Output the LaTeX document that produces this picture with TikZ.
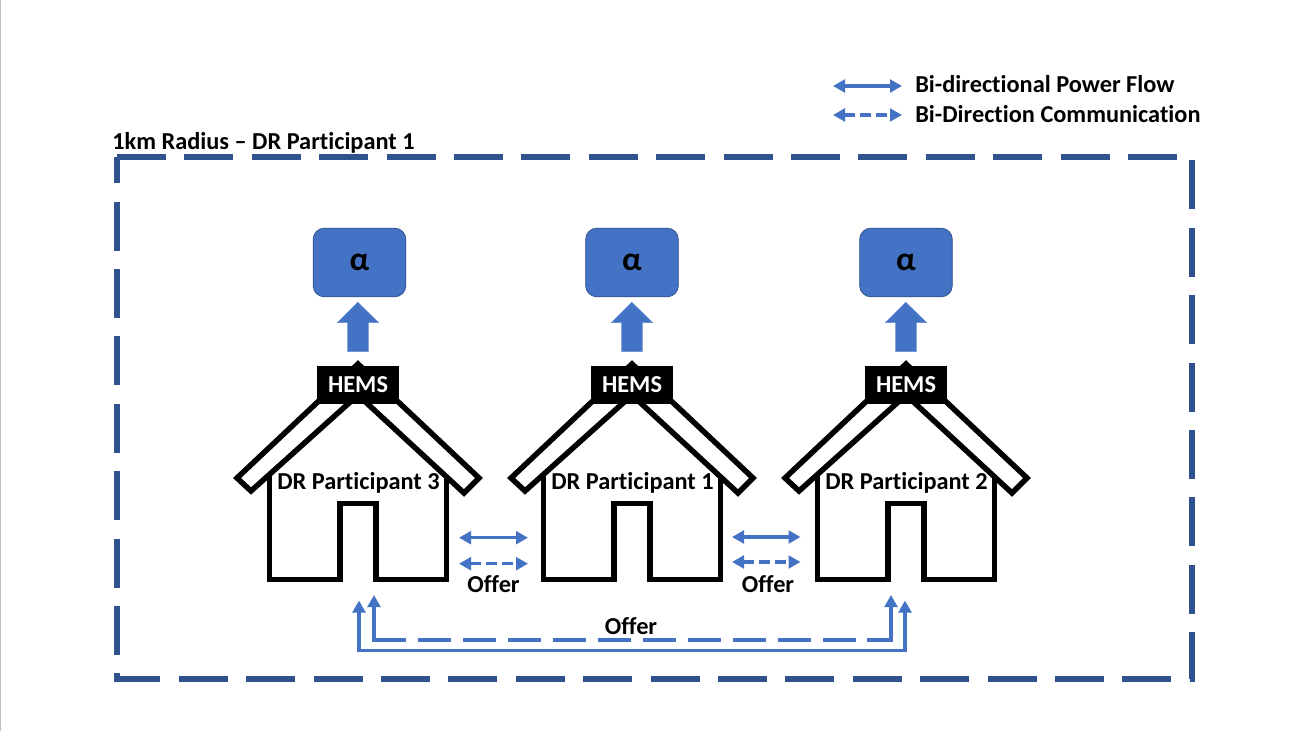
\documentclass[tikz,border=0pt]{standalone}
\usepackage{fontspec}
\setmainfont[Ligatures=NoCommon]{Carlito}
\usetikzlibrary{arrows.meta}
\definecolor{flow}{HTML}{4472C4}
\definecolor{frameblue}{HTML}{2F528F}
\tikzset{
  labeltext/.style={inner sep=0pt,anchor=base,font=\bfseries\fontsize{18.25pt}{20pt}\selectfont},
  frameline/.style={draw=frameblue,line width=4.5pt,dash pattern=on 36.75pt off 13.8pt,line join=miter},
  houseline/.style={draw=black,line width=4.1pt,line join=miter,fill=white},
  hemsbox/.style={fill=black,text=white,inner sep=0pt,minimum width=61.5pt,minimum height=28.5pt,text height=10.8pt,text depth=0pt,font=\bfseries\fontsize{18.25pt}{20pt}\selectfont},
  alphabox/.style={fill=flow,draw=frameblue,line width=0.6pt,rounded corners=8.5pt,inner sep=0pt,minimum width=69.5pt,minimum height=51.5pt,font=\bfseries\fontsize{25pt}{27pt}\selectfont},
  blockarrow/.style={fill=flow,draw=flow!80!white,line width=0.4pt},
  flowsolid/.style={draw=flow,line width=2.5pt,{Triangle[length=9pt,width=9.5pt]}-{Triangle[length=9pt,width=9.5pt]}},
  flowdash/.style={flowsolid,dash pattern=on 8.25pt off 3.75pt},
  elbowsolid/.style={draw=flow,line width=2.5pt,line join=miter},
  elbowtip/.style={elbowsolid,-{Triangle[length=9pt,width=9.5pt,sep=2.25pt]}},
  elbowouter/.style={elbowsolid,{Triangle[length=9pt,width=9.5pt]}-{Triangle[length=9pt,width=9.5pt]}},
  elbowdash/.style={draw=flow,line width=2.5pt,dash pattern=on 24.75pt off 9pt},
}
\begin{document}
\begin{tikzpicture}[x=0.75pt,y=-0.75pt]
\useasboundingbox (0,0) rectangle (1307,731);
\fill[white] (0,0) rectangle (1307,731);
\draw[black!25,line width=1pt] (0.7,0) -- (0.7,731);

% frame
\draw[frameline] (117,157) -- (1192,157) -- (1192,679) -- (117,679) -- cycle;
\node[labeltext,anchor=base west] (radius) at (112,150) {1km Radius – DR Participant 1};

% houses
\foreach \o/\n/\t/\ax in {0/three/3/359.5,274/one/1/358,548/two/2/358}{
\begin{scope}[shift={(\o,0)}]
  \draw[houseline,fill=none] (269.3,474) -- (269.3,579.3) -- (340,579.3) -- (340,503.5) -- (376,503.5) -- (376,579.3) -- (446.7,579.3) -- (446.7,474);
  \draw[houseline] (237,478) -- (358,364) -- (479,478) -- (464,493) -- (358,395) -- (251,491) -- cycle;
  \node[hemsbox] (hems\n) at (358,385) {HEMS};
  \node[labeltext] (label\n) at (358.5,489.7) {DR Participant \t};
  \node[alphabox] (alpha\n) at (\ax,262.5) {\raisebox{-2.2pt}{α}};
  \fill[blockarrow] (357.8,302.3) -- (378.7,322.7) -- (368.3,322.7) -- (368.3,351.7) -- (347.7,351.7) -- (347.7,322.7) -- (337.3,322.7) -- cycle;
\end{scope}
}

% short arrows
\coordinate (a1l) at (459,537.7); \coordinate (a1r) at (528,537.7);
\coordinate (b1l) at (459,563.7); \coordinate (b1r) at (528,563.7);
\coordinate (a2l) at (732,537); \coordinate (a2r) at (800.5,537);
\coordinate (b2l) at (732,562); \coordinate (b2r) at (800.5,562);
\draw[flowsolid] (a1l) -- (a1r);
\draw[flowdash] (b1l) -- (b1r);
\draw[flowsolid] (a2l) -- (a2r);
\draw[flowdash] (b2l) -- (b2r);
\node[labeltext] (offera) at (493.5,592.4) {Offer};
\node[labeltext] (offerb) at (768,592.4) {Offer};

% long connectors
\coordinate (outl) at (359,600.5); \coordinate (outr) at (905,600.5);
\coordinate (inl) at (374,592); \coordinate (inr) at (891,592);
\coordinate (dl) at (405.7,640); \coordinate (dr) at (867,640);
\draw[elbowouter] (outl) -- (359,650.7) -- (905,650.7) -- (outr);
\draw[elbowtip] (dl) -- (374,640) -- (inl);
\draw[elbowtip] (dr) -- (891,640) -- (inr);
\draw[elbowdash] (417.7,640) -- (dr);
\node[labeltext] (offerc) at (631,634) {Offer};

% legend
\coordinate (la) at (833,86); \coordinate (lb) at (902,86);
\coordinate (lc) at (833,115); \coordinate (ld) at (902,115);
\draw[flowsolid] (la) -- (lb);
\draw[flowdash] (lc) -- (ld);
\node[labeltext,anchor=base west] (legenda) at (915,93) {Bi-directional Power Flow};
\node[labeltext,anchor=base west] (legendb) at (915,122.4) {Bi-Direction Communication};
\end{tikzpicture}
\end{document}
